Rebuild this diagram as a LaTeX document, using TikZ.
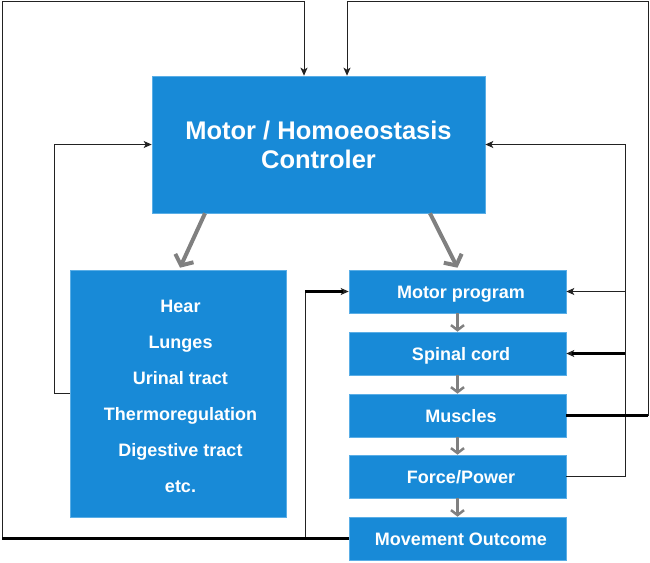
\documentclass[tikz,border=0pt]{standalone}
\usepackage{fontspec}
\setmainfont{Liberation Sans}
\usetikzlibrary{arrows.meta,calc}
\definecolor{boxblue}{HTML}{188AD7}
\definecolor{boxedge}{HTML}{5AAEE6}
\definecolor{arrgray}{HTML}{808080}
\definecolor{linegray}{HTML}{222222}
\newcommand\rtxt[1]{\hspace*{7pt}#1}
\begin{document}
\begin{tikzpicture}[x=1pt,y=-1pt,
 blk/.style={rectangle, fill=boxblue, draw=boxedge, line width=0.6pt, inner sep=0pt, text=white, font=\bfseries\fontsize{18}{21.6}\selectfont},
 rbox/.style={blk, minimum width=217pt, minimum height=43pt, text height=13pt, text depth=0pt},
 fb/.style={line width=1pt, linegray, -{Stealth[length=8pt,width=7pt,inset=2pt]}},
 thk/.style={line width=2.3pt, black},
 bigarr/.style={arrgray, line width=4pt, -{Straight Barb[length=8pt,width=20pt]}},
 smallarr/.style={arrgray, line width=2.5pt, -{Straight Barb[length=5pt,width=13pt]}}]
\useasboundingbox (0,0) rectangle (650,562);

\node[blk, minimum width=333pt, minimum height=137pt, align=center, font=\bfseries\fontsize{25.5}{29}\selectfont] (main) at (318.5,144.5) {Motor / Homoeostasis\\Controler};

\node[blk, minimum width=216pt, minimum height=247pt] (left) at (178,393.5) {};
\node[text=white, font=\bfseries\fontsize{18}{36}\selectfont, align=center, inner sep=0pt] (lefttxt) at (180.5,396.5) {Hear\\Lunges\\Urinal tract\\Thermoregulation\\Digestive tract\\etc.};

\node[rbox] (mp) at (457.5,291.5) {\rtxt{Motor program}};
\node[rbox] (sc) at (457.5,353.5) {\rtxt{Spinal cord}};
\node[rbox] (mu) at (457.5,415.5) {\rtxt{Muscles}};
\node[rbox] (fp) at (457.5,476.5) {\rtxt{Force/Power}};
\node[rbox] (mo) at (457.5,538.5) {\rtxt{Movement Outcome}};

\coordinate (tl) at (2,1);
\coordinate (tr) at (648,1);
\coordinate (jx) at (305,0);
\coordinate (rx) at (625,0);
\coordinate (lx) at (54,0);

% feedback connectors
\draw[fb] (mo.west) -| (tl) -| ([xshift=-14.5pt]main.north);
\draw[fb] (mo.west -| jx) |- (mp.west);
\draw[fb] (mu.east) -| (tr) -| ([xshift=28.5pt]main.north);
\draw[fb] (fp.east) -| (rx |- main.east) -- (main.east);
\draw[fb] (mp.east -| rx) -- (mp.east);
\draw[fb] (sc.east -| rx) -- (sc.east);
\draw[fb] (left.west) -| (lx |- main.west) -- (main.west);

% thicker segments
\draw[thk] (mo.west) -- (tl |- mo.west);
\draw[thk, shorten >=6pt] (jx |- mp.west) -- (mp.west);
\draw[thk] (mu.east) -- (mu.east -| tr);
\draw[thk, shorten >=6pt] (sc.east -| rx) -- (sc.east);

% gray arrows
\draw[bigarr] ([xshift=-113.5pt]main.south) -- ([xshift=2pt,yshift=2pt]left.north);
\draw[bigarr] ([xshift=111.5pt]main.south) -- ([yshift=2pt]mp.north);
\draw[smallarr] (mp.south) -- (sc.north);
\draw[smallarr] (sc.south) -- (mu.north);
\draw[smallarr] (mu.south) -- (fp.north);
\draw[smallarr] (fp.south) -- (mo.north);
\end{tikzpicture}
\end{document}
